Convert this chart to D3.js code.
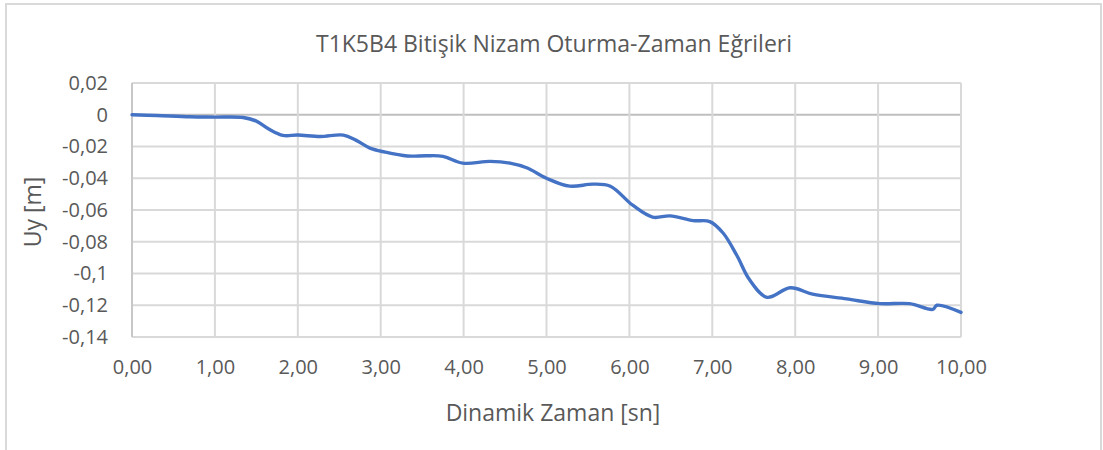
<!DOCTYPE html>
<html>
<head>
<meta charset="utf-8">
<script src="https://cdn.jsdelivr.net/npm/d3@7"></script>
<style>
  body { margin: 0; background: #fff; }
  text { font-family: "Open Sans", "Noto Sans", sans-serif; fill: #595959; }
</style>
</head>
<body>
<div id="chart"></div>
<script>
// time [sn]
const zaman = [0, 0.3, 0.7, 1.0, 1.34, 1.5, 1.65, 1.82, 2.0, 2.27, 2.55, 2.7, 2.87, 3.05, 3.32, 3.55, 3.75, 3.99, 4.32, 4.56, 4.76, 5.0, 5.28, 5.56, 5.77, 6.04, 6.28, 6.49, 6.77, 6.97, 7.13, 7.3, 7.45, 7.66, 7.94, 8.21, 8.62, 9.02, 9.38, 9.66, 9.71, 10.0];
// settlement Uy [m]
const uy = [0, -0.0005, -0.0013, -0.0015, -0.0017, -0.004, -0.009, -0.013, -0.0128, -0.0137, -0.0128, -0.016, -0.021, -0.0235, -0.026, -0.0258, -0.0262, -0.0305, -0.0294, -0.0305, -0.0334, -0.040, -0.045, -0.0437, -0.045, -0.057, -0.0645, -0.0637, -0.0667, -0.0673, -0.0745, -0.089, -0.104, -0.115, -0.109, -0.113, -0.116, -0.119, -0.119, -0.1226, -0.120, -0.1245];

const xTicks = [0, 1, 2, 3, 4, 5, 6, 7, 8, 9, 10];
const yTicks = [0.02, 0, -0.02, -0.04, -0.06, -0.08, -0.1, -0.12, -0.14];

const title = "T1K5B4 Bitişik Nizam Oturma-Zaman Eğrileri";
const xTitle = "Dinamik Zaman [sn]";
const yTitle = "Uy [m]";

const W = 1103, H = 450;
const margin = {top: 83, right: 142, bottom: 113, left: 132};
const width = W - margin.left - margin.right;
const height = H - margin.top - margin.bottom;

const svg = d3.select("#chart").append("svg")
    .attr("width", W)
    .attr("height", H);

// outer chart frame
svg.append("rect")
    .attr("x", 6).attr("y", 4)
    .attr("width", 1095).attr("height", 460)
    .attr("fill", "none")
    .attr("stroke", "#d9d9d9")
    .attr("stroke-width", 2);

const g = svg.append("g")
    .attr("transform", "translate(" + margin.left + "," + margin.top + ")");

const x = d3.scaleLinear().domain([0, 10]).range([0, width]);
const y = d3.scaleLinear().domain([-0.14, 0.02]).range([height, 0]);

// grid
g.append("g").selectAll("line")
    .data(yTicks)
    .join("line")
    .attr("x1", 0).attr("x2", width)
    .attr("y1", d => y(d)).attr("y2", d => y(d))
    .attr("stroke", d => d === 0 ? "#bfbfbf" : "#d9d9d9")
    .attr("stroke-width", 2);

g.append("g").selectAll("line")
    .data(xTicks)
    .join("line")
    .attr("x1", d => x(d)).attr("x2", d => x(d))
    .attr("y1", 0).attr("y2", height)
    .attr("stroke", d => d === 0 ? "#c8c8c8" : "#d9d9d9")
    .attr("stroke-width", 2);

// tick labels
const yAxis = g.append("g")
    .call(d3.axisLeft(y).tickValues(yTicks).tickSize(0).tickPadding(24)
        .tickFormat(d => d === 0 ? "0" : d3.format(".2~f")(d).replace(".", ",").replace("−", "-")));
yAxis.select(".domain").remove();
yAxis.selectAll("text").attr("font-size", 20).style("fill", "#595959")
    .attr("font-family", "Open Sans");

const xAxis = g.append("g")
    .attr("transform", "translate(0," + height + ")")
    .call(d3.axisBottom(x).tickValues(xTicks).tickSize(0).tickPadding(23)
        .tickFormat(d => d3.format(".2f")(d).replace(".", ",")));
xAxis.select(".domain").remove();
xAxis.selectAll("text").attr("font-size", 20).style("fill", "#595959")
    .attr("font-family", "Open Sans");

// series
const pts = zaman.map((t, i) => [t, uy[i]]);
const line = d3.line()
    .x(d => x(d[0]))
    .y(d => y(d[1]))
    .curve(d3.curveCatmullRom.alpha(0.5));

g.append("path")
    .datum(pts)
    .attr("d", line)
    .attr("fill", "none")
    .attr("stroke", "#4472c4")
    .attr("stroke-width", 3.4)
    .attr("stroke-linecap", "round")
    .attr("stroke-linejoin", "round");

// titles
svg.append("text")
    .attr("x", 554).attr("y", 52)
    .attr("text-anchor", "middle")
    .attr("font-size", 23)
    .text(title);

svg.append("text")
    .attr("x", 553).attr("y", 421)
    .attr("text-anchor", "middle")
    .attr("font-size", 23)
    .text(xTitle);

svg.append("text")
    .attr("transform", "translate(41,212) rotate(-90)")
    .attr("text-anchor", "middle")
    .attr("font-size", 23)
    .text(yTitle);
</script>
</body>
</html>
